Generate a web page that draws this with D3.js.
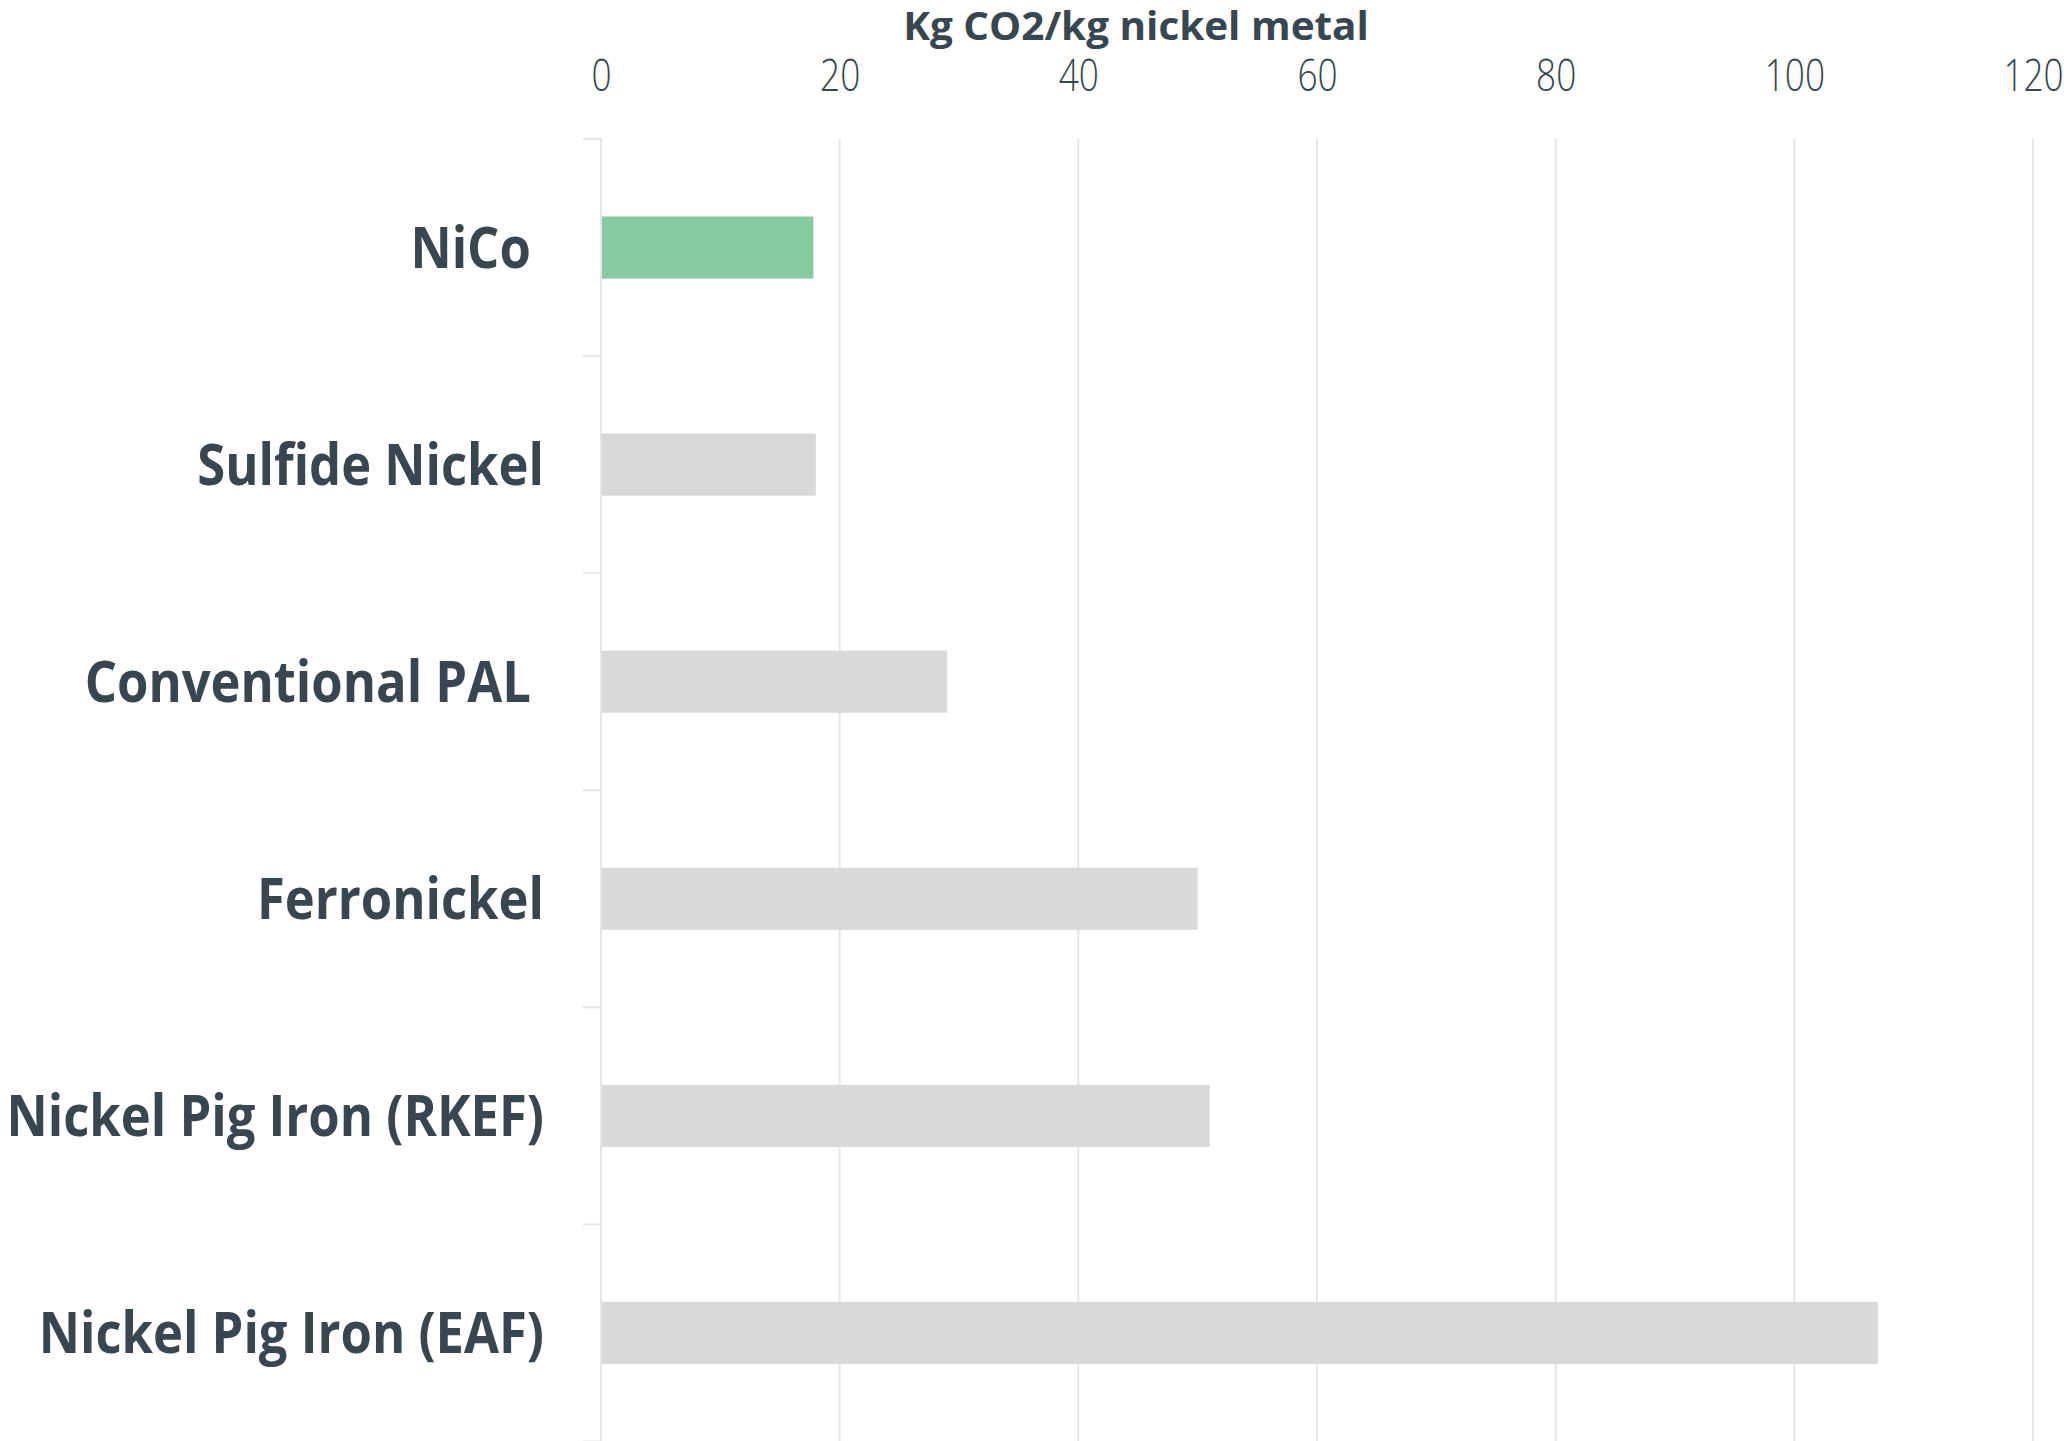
<!DOCTYPE html>
<html>
<head>
<meta charset="utf-8">
<script src="https://cdn.jsdelivr.net/npm/d3@7"></script>
<style>
  html, body { margin: 0; padding: 0; background: #ffffff; }
  svg { display: block; }
  text { font-family: "Open Sans", "Noto Sans", sans-serif; fill: #37464f; white-space: pre; }
</style>
</head>
<body>
<svg id="chart" width="2064" height="1441"></svg>
<script>
// ---- data ----
const categories = ["NiCo ", "Sulfide Nickel", "Conventional PAL ", "Ferronickel", "Nickel Pig Iron (RKEF)", "Nickel Pig Iron (EAF)"];
const values = [17.8, 18, 29, 50, 51, 107];
const highlight = [true, false, false, false, false, false];
const xTicks = [0, 20, 40, 60, 80, 100, 120];
const axisTitle = "Kg CO2/kg nickel metal";

(function () {
// ---- layout ----
const W = 2064, H = 1441;
const mLeft = 601, mRight = 2033, mTop = 139, mBottom = 1441.5;
const svg = d3.select("#chart");

const x = d3.scaleLinear().domain([0, 120]).range([mLeft, mRight]);
const y = d3.scaleBand().domain(categories).range([mTop, mBottom]).paddingInner(0.714).paddingOuter(0.357);

const gridColor = "#e2e6eb";

// gridlines
svg.append("g").selectAll("line").data(xTicks).join("line")
  .attr("x1", d => x(d)).attr("x2", d => x(d))
  .attr("y1", mTop).attr("y2", H)
  .attr("stroke", gridColor).attr("stroke-width", 2);

// category boundary ticks
const step = y.step();
const gap = step - y.bandwidth();
const bounds = categories.map(c => y(c) - gap / 2).concat([y(categories[categories.length - 1]) + y.bandwidth() + gap / 2]);
svg.append("g").selectAll("line").data(bounds).join("line")
  .attr("x1", mLeft - 18).attr("x2", mLeft)
  .attr("y1", d => d).attr("y2", d => d)
  .attr("stroke", gridColor).attr("stroke-width", 2);

// bars
svg.append("g").selectAll("rect").data(categories).join("rect")
  .attr("x", x(0) + 1)
  .attr("y", d => y(d))
  .attr("width", (d, i) => x(values[i]) - x(0) - 1)
  .attr("height", y.bandwidth())
  .attr("fill", (d, i) => highlight[i] ? "#87caa0" : "#d9d9d9");

// x axis (top)
const xAxis = d3.axisTop(x).tickValues(xTicks).tickSize(0).tickPadding(0);
const gx = svg.append("g").attr("transform", `translate(0,91)`).call(xAxis);
gx.select(".domain").remove();
gx.selectAll("text")
  .attr("y", 0).attr("dy", 0)
  .attr("transform", "scale(0.8,1)")
  .style("font-size", "44px").style("font-weight", 300)
  .style("font-family", "'Open Sans', sans-serif")
  .attr("fill", "#37464f");

// axis title
svg.append("text")
  .attr("transform", "translate(1136,40) scale(1.05,1)")
  .attr("text-anchor", "middle")
  .style("font-size", "38.5px").style("font-weight", 700)
  .text(axisTitle);

// category labels
svg.append("g").selectAll("text").data(categories).join("text")
  .attr("transform", d => `translate(544,${y(d) + y.bandwidth() / 2 + 20}) scale(0.89,1)`)
  .attr("text-anchor", "end")
  .style("font-size", "57px").style("font-weight", 700)
  .text(d => d);
})();
</script>
</body>
</html>
